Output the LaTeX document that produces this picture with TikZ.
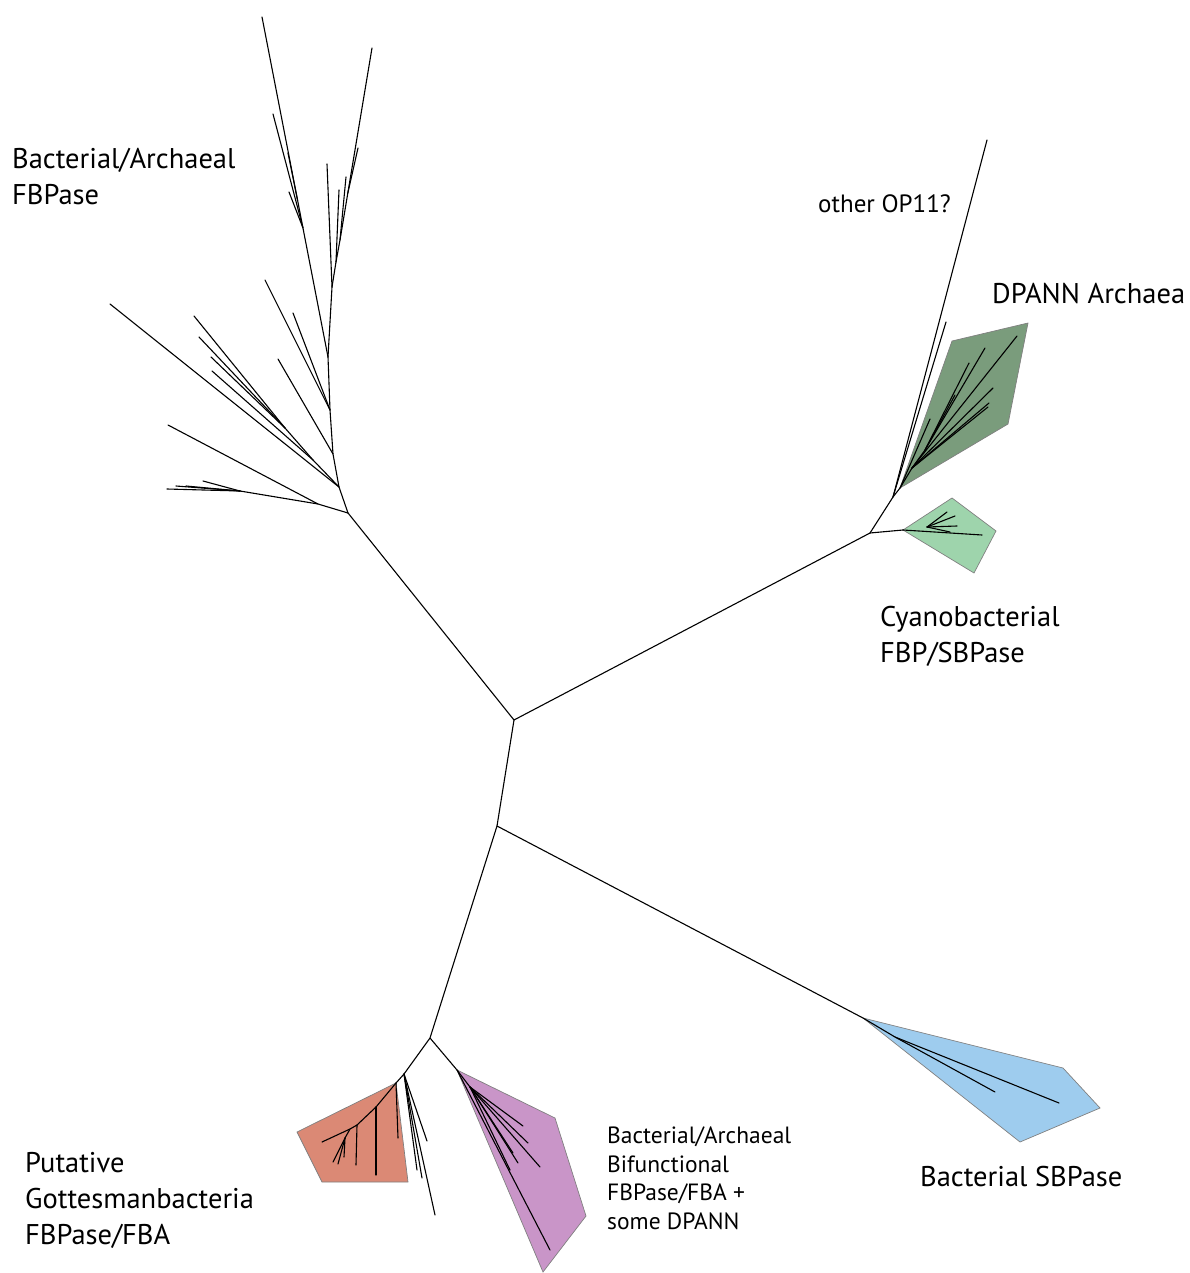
\documentclass[tikz,border=0pt]{standalone}
\usepackage{fontspec}
\setmainfont{PT Sans}
\usetikzlibrary{calc}

\begin{document}
\begin{tikzpicture}[x=1pt, y=-1pt,
    branch/.style={line width=1.1pt, line cap=round},
    clade/.style={draw=black!50, line width=0.7pt, line join=miter},
    biglabel/.style={font=\fontsize{28.5}{36}\selectfont, align=left, inner sep=0pt, anchor=north west},
    smalllabel/.style={font=\fontsize{23.5}{28.5}\selectfont, align=left, inner sep=0pt, anchor=north west}]

    % Define colors
    \definecolor{dpanncolor}{RGB}{122,156,124}
    \definecolor{cyanocolor}{RGB}{158,212,172}
    \definecolor{gottcolor}{RGB}{219,137,117}
    \definecolor{bifcolor}{RGB}{201,149,200}
    \definecolor{sbpcolor}{RGB}{158,204,238}

    \useasboundingbox (0,0) rectangle (1190,1273);

    % Backbone
    \coordinate (root) at (514,720);
    \coordinate (fbpbase) at (348,513);
    \coordinate (cyanojn) at (870,533);
    \coordinate (op11jn) at (893,497);
    \coordinate (dpann) at (900,488);
    \coordinate (cyano) at (903,530);
    \coordinate (lowjn) at (497,826);
    \coordinate (sbp) at (863,1018);
    \coordinate (bifjn) at (430,1038);
    \coordinate (gottjn) at (404,1074);
    \coordinate (gott) at (396,1083);
    \coordinate (bif) at (457,1070);

    % Clade hulls
    \filldraw[clade, fill=dpanncolor] (952,341) -- (1028,323) -- (1008,424) -- (dpann) -- cycle;
    \filldraw[clade, fill=cyanocolor] (952,498) -- (996,531) -- (974,573) -- (cyano) -- cycle;
    \filldraw[clade, fill=gottcolor] (297,1132) -- (gott) -- (408,1182) -- (322,1182) -- cycle;
    \filldraw[clade, fill=bifcolor] (bif) -- (555,1118) -- (586,1216) -- (543,1272) -- cycle;
    \filldraw[clade, fill=sbpcolor] (sbp) -- (1063,1068) -- (1100,1108) -- (1020,1142) -- cycle;

    \draw[branch] (fbpbase) -- (root) -- (cyanojn) -- (op11jn) -- (dpann);
    \draw[branch] (cyanojn) -- (cyano);
    \draw[branch] (root) -- (lowjn) -- (sbp);
    \draw[branch] (lowjn) -- (bifjn) -- (gottjn) -- (gott);
    \draw[branch] (bifjn) -- (bif);

    % Bacterial/Archaeal FBPase clade
    \coordinate (a1) at (339,487);
    \coordinate (a2) at (333,454);
    \coordinate (a3) at (330,410);
    \coordinate (a4) at (328,357);
    \coordinate (l1) at (318,504);
    \coordinate (c1) at (240,491);
    \coordinate (f1) at (313,460);
    \coordinate (f2) at (285,428);
    \coordinate (r1) at (332,287);
    \coordinate (r2) at (336,262);
    \coordinate (r3) at (340,240);
    \coordinate (lefttop) at (262,17);
    \coordinate (righttop) at (372,48);
    \coordinate (lb1) at ($(a4)!0.38!(lefttop)$);
    \coordinate (lb2) at ($(a4)!0.46!(lefttop)$);
    \coordinate (r4) at ($(r3)!0.245!(righttop)$);
    \draw[branch] (fbpbase) -- (a1) -- (a2) -- (a3) -- (a4) -- (lefttop);
    \draw[branch] (a4) -- (r1) -- (r2) -- (r3) -- (righttop);
    \draw[branch] (fbpbase) -- (l1) -- (c1);
    \draw[branch] (a1) -- (f1) -- (f2);
    \draw[branch] (l1) -- (168,425);
    \foreach \x/\y in {167/489, 176/486, 186/486, 203/481}
        \draw[branch] (c1) -- (\x,\y);
    \foreach \x/\y in {194/316, 199/337, 211/357}
        \draw[branch] (f2) -- (\x,\y);
    \draw[branch] (f1) -- (212,371);
    \draw[branch] (a1) -- (110,304);
    \draw[branch] (a2) -- (278,359);
    \draw[branch] (a3) -- (265,280);
    \draw[branch] (a3) -- (293,313);
    \draw[branch] (lb1) -- (273,114);
    \draw[branch] (lb1) -- (289,192);
    \draw[branch] (lb2) -- (288,153);
    \draw[branch] (r1) -- (327,164);
    \draw[branch] (r2) -- (339,190);
    \draw[branch] (r3) -- (346,177);
    \draw[branch] (r4) -- (358,148);

    % other OP11 and DPANN
    \draw[branch] (op11jn) -- (987,140);
    \draw[branch] (op11jn) -- (946,322);
    \coordinate (d1) at (912,468);
    \coordinate (d2) at (925,450);
    \draw[branch] (dpann) -- (d1) -- (d2);
    \foreach \x/\y in {1017/336, 993/388, 989/403, 988/407}
        \draw[branch] (d1) -- (\x,\y);
    \foreach \x/\y in {985/348, 969/363, 955/395}
        \draw[branch] (d2) -- (\x,\y);
    \draw[branch] (dpann) -- (930,419);

    % Cyanobacterial
    \coordinate (cn) at (927,527);
    \draw[branch] (cyano) -- (982,535);
    \foreach \x/\y in {947/512, 955/516, 957/526, 950/532}
        \draw[branch] (cn) -- (\x,\y);

    % Gottesmanbacteria and neighbours
    \coordinate (g1) at (376,1107);
    \coordinate (g2) at (357,1125);
    \coordinate (g3) at (350,1129);
    \coordinate (g4) at (345,1138);
    \draw[branch] (gott) -- (g1) -- (g2) -- (g3) -- (322,1142);
    \draw[branch] (gott) -- (398,1138);
    \draw[branch] (g1) -- (376,1175);
    \draw[branch] (g2) -- (356,1165);
    \draw[branch] (g3) -- (g4);
    \foreach \x/\y in {333/1162, 338/1164, 344/1157}
        \draw[branch] (g4) -- (\x,\y);
    \foreach \x/\y in {427/1141, 417/1170, 422/1178, 435/1215}
        \draw[branch] (gottjn) -- (\x,\y);

    % Bifunctional
    \coordinate (b1) at (470,1087);
    \draw[branch] (bif) -- (b1);
    \foreach \x/\y in {523/1126, 528/1143, 540/1167, 518/1163, 510/1170, 513/1153}
        \draw[branch] (b1) -- (\x,\y);
    \draw[branch] (bif) -- (550,1250);

    % Bacterial SBPase
    \coordinate (s1) at (895,1037);
    \draw[branch] (sbp) -- (s1) -- (1059,1103);
    \draw[branch] (s1) -- (995,1092);

    % Labels
    \node[biglabel] (fbplabel) at (12,148) {Bacterial/Archaeal\\FBPase};
    \node[smalllabel, font=\fontsize{25}{30}\selectfont] (op11label) at (818,195) {other OP11?};
    \node[biglabel] (dpannlabel) at (992,283) {DPANN Archaea};
    \node[biglabel] (cyanolabel) at (880,606) {Cyanobacterial\\FBP/SBPase};
    \node[biglabel] (sbplabel) at (920,1166) {Bacterial SBPase};
    \node[biglabel] (gottlabel) at (25,1152) {Putative\\Gottesmanbacteria\\FBPase/FBA};
    \node[smalllabel] (biflabel) at (607,1127) {Bacterial/Archaeal\\Bifunctional\\FBPase/FBA +\\some DPANN};

\end{tikzpicture}
\end{document}
